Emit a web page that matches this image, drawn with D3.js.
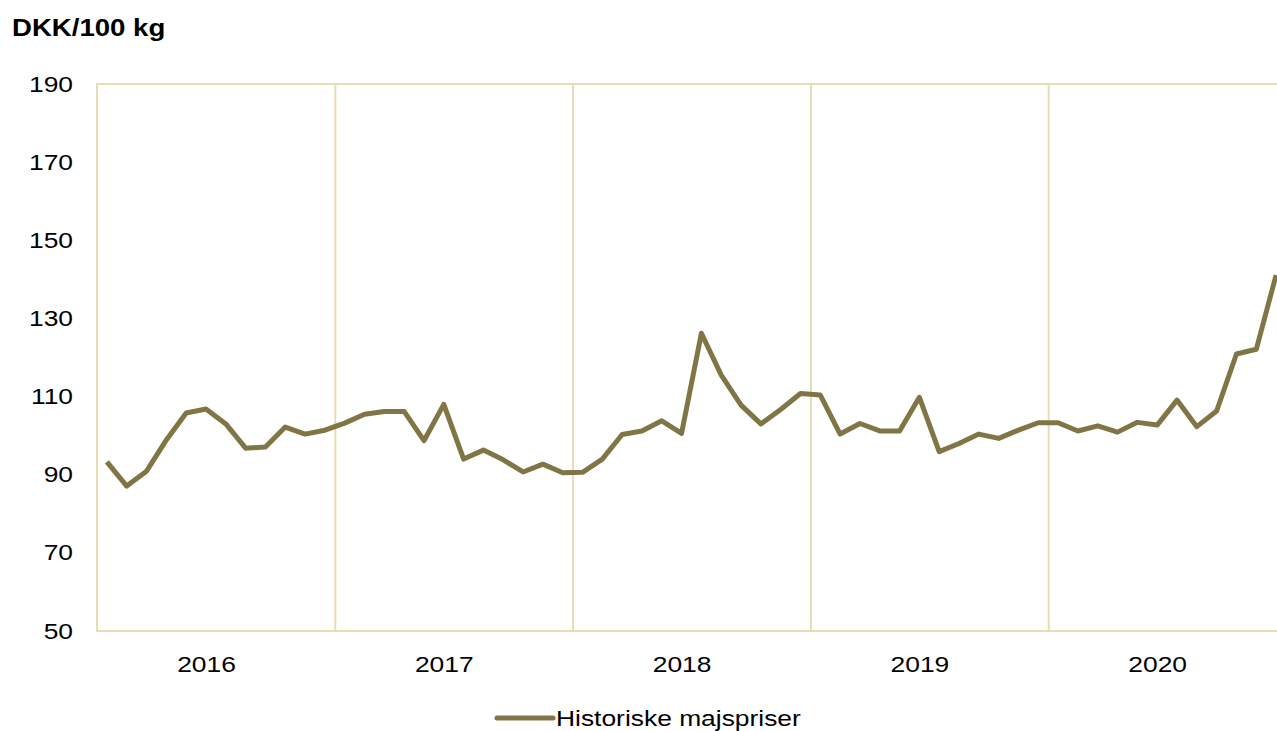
<!DOCTYPE html>
<meta charset="utf-8">
<style>
body { margin: 0; background: #fff; }
text { font-family: "Liberation Sans", Arial, sans-serif; fill: #000; }
.axis .domain { display: none; }
</style>
<svg width="1277" height="731"></svg>
<script src="https://d3js.org/d3.v7.min.js"></script>
<script>

// monthly prices, Jan 2016 .. Dec 2020
var years = ["2016", "2017", "2018", "2019", "2020"];
var yTicks = [50, 70, 90, 110, 130, 150, 170, 190];
var seriesName = "Historiske majspriser";
var prices = [
  93.3, 87.1, 90.9, 98.9, 105.8, 106.8, 103.0, 96.8, 97.1, 102.2, 100.4, 101.4,
  103.2, 105.5, 106.2, 106.2, 98.7, 108.0, 94.0, 96.3, 93.8, 90.7, 92.7, 90.5,
  90.6, 94.0, 100.3, 101.2, 103.8, 100.6, 126.2, 115.5, 107.8, 103.0, 106.7, 110.8,
  110.4, 100.4, 103.1, 101.2, 101.2, 109.8, 95.9, 98.0, 100.4, 99.3, 101.4, 103.3,
  103.3, 101.2, 102.5, 100.9, 103.4, 102.7, 109.1, 102.3, 106.3, 120.9, 122.1, 141.1
];

var svg = d3.select("svg");
var plot = { left: 97, right: 1286, top: 84, bottom: 631 };
var grid = "#e8dcb4";
var stretch = 1.2; // the original's lettering is a bit wide

var x = d3.scaleLinear().domain([0, prices.length]).range([plot.left, plot.right]);
var y = d3.scaleLinear().domain([50, 190]).range([plot.bottom, plot.top]);

// plot frame
svg.append("rect")
    .attr("x", plot.left).attr("y", plot.top)
    .attr("width", plot.right - plot.left).attr("height", plot.bottom - plot.top)
    .attr("fill", "none")
    .attr("stroke", grid)
    .attr("stroke-width", 2);

// year separators
svg.append("g")
    .attr("class", "axis")
    .attr("transform", "translate(0," + plot.bottom + ")")
    .call(d3.axisBottom(x).tickValues(d3.range(12, prices.length, 12))
      .tickSize(-(plot.bottom - plot.top)).tickFormat(""))
    .selectAll("line")
    .attr("stroke", grid)
    .attr("stroke-width", 2);

// year labels (sit half a month left of the year's middle, as in the original)
svg.append("g")
    .attr("class", "axis")
    .attr("transform", "translate(0," + plot.bottom + ")")
    .call(d3.axisBottom(x).tickValues(years.map(function(d, i) { return i * 12 + 5.5; }))
      .tickSize(0).tickPadding(25).tickFormat(function(d) { return years[(d - 5.5) / 12]; }))
    .selectAll("text")
    .attr("font-size", 22)
    .attr("transform", "scale(" + stretch + ",1)")
    .style("font-family", "Liberation Sans, Arial, sans-serif");

// y labels
svg.append("g")
    .attr("class", "axis")
    .attr("transform", "translate(" + plot.left + ",0)")
    .call(d3.axisLeft(y).tickValues(yTicks).tickSize(0))
    .selectAll("text")
    .attr("x", -24 / stretch)
    .attr("font-size", 22)
    .attr("transform", "scale(" + stretch + ",1)")
    .style("font-family", "Liberation Sans, Arial, sans-serif");

svg.append("text")
    .attr("transform", "translate(12,36) scale(" + stretch + ",1)")
    .attr("font-size", 23)
    .attr("font-weight", "bold")
    .text("DKK/100 kg");

var line = d3.line()
    .x(function(d, i) { return x(i + 0.5); })
    .y(function(d) { return y(d); });

svg.append("path")
    .datum(prices)
    .attr("fill", "none")
    .attr("stroke", "#807545")
    .attr("stroke-width", 5)
    .attr("stroke-linejoin", "round")
    .attr("d", line);

// legend
var lg = svg.append("g").attr("transform", "translate(497,718)");
lg.append("line")
    .attr("x1", 0).attr("x2", 56)
    .attr("stroke", "#807545")
    .attr("stroke-width", 5)
    .attr("stroke-linecap", "round");
lg.append("text")
    .attr("transform", "translate(59,8) scale(" + stretch + ",1)")
    .attr("font-size", 22)
    .text(seriesName);

</script>
